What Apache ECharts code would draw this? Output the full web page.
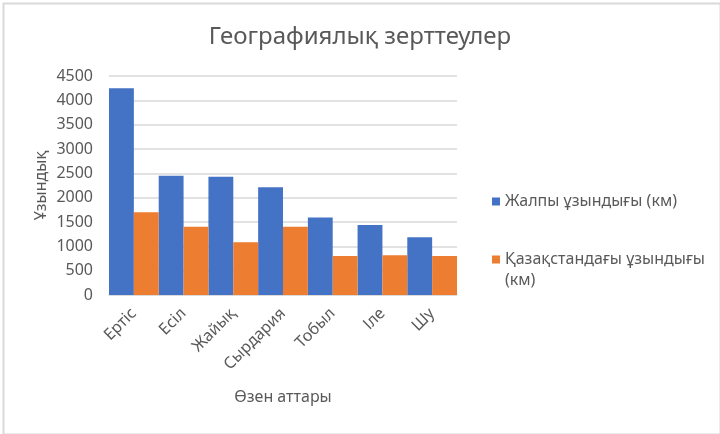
<!DOCTYPE html>
<html lang="kk">
<head>
<meta charset="UTF-8">
<title>Географиялық зерттеулер</title>
<script src="https://cdn.jsdelivr.net/npm/echarts@6/dist/echarts.min.js"></script>
<style>
  html, body { margin: 0; padding: 0; background: #fff; }
  #main { width: 720px; height: 434px; }
</style>
</head>
<body>
<div id="main"></div>
<script>
// өзен атаулары
var rivers = ['Ертіс', 'Есіл', 'Жайық', 'Сырдария', 'Тобыл', 'Іле', 'Шу'];
// жалпы ұзындығы (км)
var totalLength = [4248, 2450, 2428, 2212, 1591, 1439, 1186];
// Қазақстандағы ұзындығы (км)
var kzLength = [1700, 1400, 1082, 1400, 800, 815, 800];
var yTicks = [0, 500, 1000, 1500, 2000, 2500, 3000, 3500, 4000, 4500];

var seriesNames = ['Жалпы ұзындығы (км)', 'Қазақстандағы ұзындығы (км)'];
var grey = '#595959';
var font = 'Noto Sans';

var myChart = echarts.init(document.getElementById('main'));

var option = {
  animation: false,
  textStyle: { fontFamily: font },
  title: {
    text: 'Географиялық зерттеулер',
    left: 'center',
    top: 20,
    textStyle: { fontFamily: font, fontSize: 24, fontWeight: 'normal', color: grey }
  },
  graphic: [{
    type: 'rect',
    left: 1, top: 1,
    shape: { width: 717, height: 431 },
    style: { fill: 'none', stroke: '#d9d9d9', lineWidth: 2 },
    silent: true
  }],
  legend: [{
    data: [seriesNames[0]],
    left: 487, top: 186,
    itemWidth: 8, itemHeight: 8,
    icon: 'rect',
    textStyle: { fontFamily: font, fontSize: 16, color: grey, lineHeight: 21 }
  }, {
    data: [seriesNames[1]],
    left: 487, top: 223,
    itemWidth: 8, itemHeight: 8,
    icon: 'rect',
    // бірінші жол белгішемен қатар тұруы үшін бос жол қосылады
    formatter: function (name) { return '\n' + name.replace(' (км)', '\n(км)'); },
    textStyle: { fontFamily: font, fontSize: 16, color: grey, lineHeight: 21 }
  }],
  grid: { left: 109, right: 263, top: 76, bottom: 139, containLabel: false },
  xAxis: {
    type: 'category',
    data: rivers,
    name: 'Өзен аттары',
    nameLocation: 'middle',
    nameGap: 94,
    nameTextStyle: { fontFamily: font, fontSize: 16, color: grey },
    axisLine: { lineStyle: { color: '#d9d9d9', width: 1.5 } },
    axisTick: { show: false },
    axisLabel: { rotate: 45, fontSize: 16, color: grey, margin: 16, interval: 0 }
  },
  yAxis: {
    type: 'value',
    min: yTicks[0],
    max: yTicks[yTicks.length - 1],
    interval: yTicks[1] - yTicks[0],
    name: 'Ұзындық',
    nameLocation: 'middle',
    nameGap: 60,
    nameTextStyle: { fontFamily: font, fontSize: 16, color: grey },
    axisLine: { show: false },
    axisTick: { show: false },
    axisLabel: { fontSize: 16, color: grey, margin: 16, formatter: function (v) { return String(v); } },
    splitLine: { lineStyle: { color: '#d9d9d9', width: 1.5 } }
  },
  series: [{
    name: seriesNames[0],
    type: 'bar',
    data: totalLength,
    barGap: '0%',
    barCategoryGap: '0%',
    itemStyle: { color: '#4472C4' }
  }, {
    name: seriesNames[1],
    type: 'bar',
    data: kzLength,
    itemStyle: { color: '#ED7D31' }
  }]
};
myChart.setOption(option);
</script>
</body>
</html>
